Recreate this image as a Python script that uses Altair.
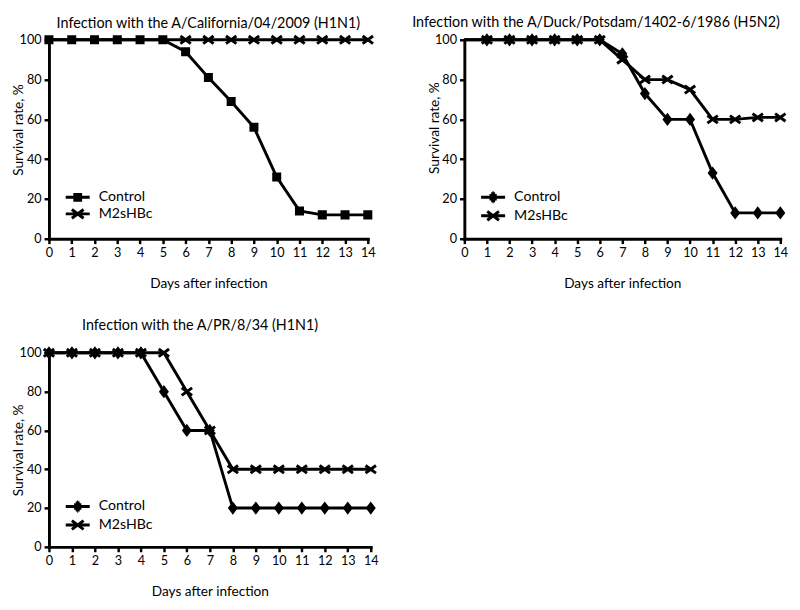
import altair as alt
import pandas as pd

FONT = "Lato"

days = list(range(15))
series_names = ["Control", "M2sHBc"]

titles = [
    "Infection with the A/California/04/2009 (H1N1)",
    "Infection with the A/Duck/Potsdam/1402-6/1986 (H5N2)",
    "Infection with the A/PR/8/34 (H1N1)",
]

cal_control = [100, 100, 100, 100, 100, 100, 94, 81, 69, 56, 31, 14, 12, 12, 12]
cal_m2shbc = [100, 100, 100, 100, 100, 100, 100, 100, 100, 100, 100, 100, 100, 100, 100]

duck_control = [100, 100, 100, 100, 100, 100, 100, 93, 73, 60, 60, 33, 13, 13, 13]
duck_m2shbc = [100, 100, 100, 100, 100, 100, 100, 90, 80, 80, 75, 60, 60, 61, 61]

pr_control = [100, 100, 100, 100, 100, 80, 60, 60, 20, 20, 20, 20, 20, 20, 20]
pr_m2shbc = [100, 100, 100, 100, 100, 100, 80, 60, 40, 40, 40, 40, 40, 40, 40]

# first day that carries a marker, per series
marker_start = [
    {"Control": 0, "M2sHBc": 6},
    {"Control": 1, "M2sHBc": 1},
    {"Control": 0, "M2sHBc": 0},
]

y_ticks = [0, 20, 40, 60, 80, 100]

# marker shapes (paths in the unit box)
SQUARE = "M-0.48,-0.48H0.48V0.48H-0.48Z"
DIAMOND = "M0,-0.66L0.5,0L0,0.66L-0.5,0Z"
XMARK = "M-0.82,-0.6L0.82,0.6M-0.82,0.6L0.82,-0.6"
# legend symbols (stroke only): a short line with the marker on it
LSQUARE = "M-2.05,0H2.05M-0.75,-0.5H0.75M-0.75,0.5H0.75M-0.75,0H0.75"
LDIAMOND = ("M-2.05,0H2.05M-0.62,-0.3H0.62M-0.62,0.3H0.62"
            "M-0.34,-0.6H0.34M-0.34,0.6H0.34M-0.08,-0.82H0.08M-0.08,0.82H0.08")
LXMARK = "M-2.05,0H2.05M-1.0,-0.75L1.0,0.75M-1.0,0.75L1.0,-0.75"


def make_df(ctrl, m2, starts):
    rows = []
    for name, vals in (("Control", ctrl), ("M2sHBc", m2)):
        for d, v in zip(days, vals):
            rows.append({"day": d, "series": name, "value": v, "marker": d >= starts[name]})
    return pd.DataFrame(rows)


def panel(df, title, dx, toff, ctrl_shape, ctrl_legend, w, h, ytitle_shift):
    base = alt.Chart(df)
    x = alt.X(
        "day:Q",
        scale=alt.Scale(domain=[0, 14], nice=False, zero=False),
        axis=alt.Axis(values=days, title="Days after infection", labelFlush=False,
                      labelOverlap=False, titlePadding=18),
    )
    y = alt.Y(
        "value:Q",
        scale=alt.Scale(domain=[0, 100], nice=False),
        axis=alt.Axis(values=y_ticks, title="Survival rate, %", titleX=-24,
                      titleY=h / 2 - ytitle_shift),
    )
    lines = base.mark_line(color="black", strokeWidth=3).encode(
        x=x, y=y, detail="series:N", order="day:Q"
    )
    points = base.transform_filter("datum.marker").mark_point(
        filled=False, fill="black", stroke="black", strokeWidth=3, size=169,
        opacity=1, fillOpacity=1, strokeOpacity=1
    ).encode(
        x=x, y=y,
        shape=alt.Shape("series:N",
                        scale=alt.Scale(domain=series_names, range=[ctrl_shape, XMARK]),
                        legend=None),
    )
    legend_layer = base.transform_filter("false").mark_point(
        filled=False, color="black", strokeWidth=3, size=144, opacity=1
    ).encode(
        x=x, y=y,
        shape=alt.Shape(
            "series:N",
            scale=alt.Scale(domain=series_names, range=[ctrl_legend, LXMARK]),
            legend=alt.Legend(
                orient="none", legendX=22, legendY=round(h * 0.795) - 8, title=None,
                labelFont=FONT, labelFontSize=14.5, labelColor="black",
                symbolSize=144, symbolStrokeWidth=3, symbolOpacity=1, labelOffset=14,
                rowPadding=-4, padding=0,
            ),
        ),
    )
    return (
        alt.layer(lines, points, legend_layer, title=alt.TitleParams(title, dx=dx, offset=toff))
        .resolve_scale(shape="independent")
        .properties(width=w, height=h)
    )


p1 = panel(make_df(cal_control, cal_m2shbc, marker_start[0]), titles[0], 0, 0, SQUARE, LSQUARE, 327, 204, 10)
p2 = panel(make_df(duck_control, duck_m2shbc, marker_start[1]), titles[1], -27, 0, DIAMOND, LDIAMOND, 324, 204, 12)
p3 = panel(make_df(pr_control, pr_m2shbc, marker_start[2]), titles[2], -10, 10, DIAMOND, LDIAMOND, 330, 199, 0)

top = alt.hconcat(p1, p2, spacing=33).resolve_scale(shape="independent").resolve_legend(shape="independent")
chart = (
    alt.vconcat(top, p3, spacing=29)
    .resolve_scale(shape="independent")
    .resolve_legend(shape="independent")
    .properties(padding={"left": 4, "top": 0, "right": 0, "bottom": 0}, background="white")
    .configure_view(stroke=None)
    .configure_axis(
        domainColor="black", domainWidth=3, domainCap="square", tickColor="black", tickWidth=2.5,
        tickSize=5, labelColor="black", titleColor="black", labelFont=FONT, titleFont=FONT,
        labelFontSize=13, titleFontSize=14, titleFontWeight="normal", grid=False, labelPadding=3,
    )
    .configure_title(font=FONT, fontSize=14.7, fontWeight="normal", color="black",
                     anchor="middle", frame="group")
)

chart.save("out.html", embed_options={"renderer": "svg", "actions": False})
